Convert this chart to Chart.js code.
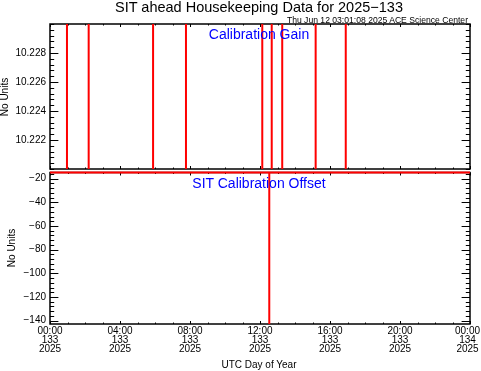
<!DOCTYPE html>
<html>
<head>
<meta charset="utf-8">
<script src="https://cdn.jsdelivr.net/npm/chart.js@4"></script>
<style>
  body { margin: 0; background: #fff; }
  #wrap { position: relative; width: 481px; height: 371px; font-family: "Liberation Sans", Arial, sans-serif; color: #000; overflow: hidden; }
  canvas { position: absolute; left: 0; }
  .lbl { position: absolute; white-space: nowrap; line-height: 1; transform: translate(-50%, -50%); }
  .rot { transform: translate(-50%, -50%) rotate(-90deg); }
</style>
</head>
<body>
<div id="wrap">
  <canvas id="gainChart" width="481" height="171" style="top:0"></canvas>
  <canvas id="offsetChart" width="481" height="201" style="top:170px"></canvas>
  <div class="lbl" style="left:259px; top:7px; font-size:14.5px">SIT ahead Housekeeping Data for 2025&minus;133</div>
  <div class="lbl" style="left:468px; top:19.5px; font-size:8.6px; transform:translate(-100%,-50%)">Thu Jun 12 03:01:08 2025 ACE Science Center</div>
  <div class="lbl" style="left:259px; top:33.5px; font-size:14px; color:#0000ff">Calibration Gain</div>
  <div class="lbl" style="left:259px; top:183px; font-size:14px; color:#0000ff">SIT Calibration Offset</div>
  <div class="lbl rot" style="left:4.5px; top:97px; font-size:10px">No Units</div>
  <div class="lbl rot" style="left:12px; top:248px; font-size:10px">No Units</div>
  <div class="lbl" style="left:259px; top:365px; font-size:10px">UTC Day of Year</div>
</div>
<script>
// hours since 00:00 UTC, day 133 of 2025
const gainHours = [0.00, 0.97, 0.97, 2.21, 2.21, 5.89, 5.89, 7.77, 7.77, 12.13, 12.13, 12.67, 12.67, 13.27, 13.27, 15.18, 15.18, 16.90, 16.90, 24.00];
const gainValues = [10.2150, 10.2150, 10.2350, 10.2350, 10.2150, 10.2150, 10.2350, 10.2350, 10.2150, 10.2150,
                    10.2350, 10.2350, 10.2150, 10.2150, 10.2350, 10.2350, 10.2150, 10.2150, 10.2350, 10.2350];
const offsetHours = [0.00, 12.53, 12.53, 12.53, 24.00];
const offsetValues = [-14.8, -14.8, -142.8, -14.8, -14.8];

const gainTicks = [10.222, 10.224, 10.226, 10.228];
const gainTickLabels = ["10.222", "10.224", "10.226", "10.228"];
const offsetTicks = [-140, -120, -100, -80, -60, -40, -20];
const offsetTickLabels = ["\u2212140", "\u2212120", "\u2212100", "\u221280", "\u221260", "\u221240", "\u221220"];
const hourTicks = [0, 4, 8, 12, 16, 20, 24];
const hourTickLabels = [
  ["00:00", "133", "2025"], ["04:00", "133", "2025"], ["08:00", "133", "2025"], ["12:00", "133", "2025"],
  ["16:00", "133", "2025"], ["20:00", "133", "2025"], ["00:00\u2002", "134\u2002", "2025\u2002"]
];

const FONT = "'Liberation Sans', Arial, sans-serif";

// minor ticks between the majors, inside the axis range
function minorTicks(major, parts, min, max) {
  const step = (major[1] - major[0]) / parts;
  const out = [];
  for (let v = major[0]; v >= min - 1e-9; v -= step) out.push(v);
  for (let v = major[0] + step; v <= max + 1e-9; v += step) out.push(v);
  return out;
}

// IDL style box with inward ticks
const idlFrame = {
  id: "idlFrame",
  beforeDatasetsDraw(chart, args, opts) {
    const { ctx, chartArea: a, scales: { x, y } } = chart;
    ctx.save();
    ctx.strokeStyle = "#000";
    ctx.lineWidth = 1.5;
    ctx.strokeRect(a.left, a.top, a.right - a.left, a.bottom - a.top);
    ctx.lineWidth = 1;
    ctx.beginPath();
    const yMajor = opts.yMajor;
    minorTicks(yMajor, 5, y.min, y.max).forEach(v => {
      const py = Math.round(y.getPixelForValue(v)) + 0.5;
      const isMajor = yMajor.some(m => Math.abs(m - v) < 1e-7);
      const len = isMajor ? 8.4 : 4.2;
      ctx.moveTo(a.left, py); ctx.lineTo(a.left + len, py);
      ctx.moveTo(a.right, py); ctx.lineTo(a.right - len, py);
    });
    minorTicks(hourTicks, 4, x.min, x.max).forEach(v => {
      const px = Math.round(x.getPixelForValue(v)) + 0.5;
      const isMajor = hourTicks.includes(Math.round(v * 1000) / 1000);
      const len = isMajor ? 3 : 1.5;
      ctx.moveTo(px, a.bottom); ctx.lineTo(px, a.bottom - len);
      ctx.moveTo(px, a.top); ctx.lineTo(px, a.top + len);
    });
    ctx.stroke();
    ctx.restore();
  }
};

function yAxis(min, max, ticks, labels) {
  return {
    min, max,
    afterFit: s => { s.width = 50; s.paddingTop = 0; s.paddingBottom = 0; },
    afterBuildTicks: s => { s.ticks = ticks.map(v => ({ value: v })); },
    ticks: { callback: (v, i) => labels[i], font: { family: FONT, size: 10 }, color: "#000", padding: 4 },
    grid: { display: false, drawTicks: false },
    border: { display: false }
  };
}

new Chart(document.getElementById("gainChart"), {
  type: "line",
  data: {
    datasets: [{
      data: gainHours.map((h, i) => ({ x: h, y: gainValues[i] })),
      borderColor: "#ff0000", borderWidth: 2, pointRadius: 0, tension: 0, clip: 0
    }]
  },
  options: {
    responsive: false, animation: false,
    layout: { padding: { top: 24, right: 11, bottom: 2, left: 0 } },
    plugins: { legend: { display: false }, tooltip: { enabled: false }, idlFrame: { yMajor: gainTicks } },
    scales: {
      x: { type: "linear", min: 0, max: 24, display: false },
      y: yAxis(10.2200, 10.2300, gainTicks, gainTickLabels)
    }
  },
  plugins: [idlFrame]
});

new Chart(document.getElementById("offsetChart"), {
  type: "line",
  data: {
    datasets: [{
      data: offsetHours.map((h, i) => ({ x: h, y: offsetValues[i] })),
      borderColor: "#ff0000", borderWidth: 2, pointRadius: 0, tension: 0,
      clip: { left: 0, right: 0, top: 2, bottom: 0 }
    }]
  },
  options: {
    responsive: false, animation: false,
    layout: { padding: { top: 2.5, right: 11, bottom: 17, left: 0 } },
    plugins: { legend: { display: false }, tooltip: { enabled: false }, idlFrame: { yMajor: offsetTicks } },
    scales: {
      x: {
        type: "linear", min: 0, max: 24,
        afterFit: s => { s.height = 30; s.paddingLeft = 0; s.paddingRight = 0; },
        afterBuildTicks: s => { s.ticks = hourTicks.map(v => ({ value: v })); },
        ticks: {
          callback: (v, i) => hourTickLabels[i],
          font: { family: FONT, size: 10, lineHeight: "8.7px" },
          color: "#000", padding: 3, autoSkip: false, maxRotation: 0
        },
        grid: { display: false, drawTicks: false },
        border: { display: false }
      },
      y: yAxis(-142.8, -14.8, offsetTicks, offsetTickLabels)
    }
  },
  plugins: [idlFrame]
});
</script>
</body>
</html>
